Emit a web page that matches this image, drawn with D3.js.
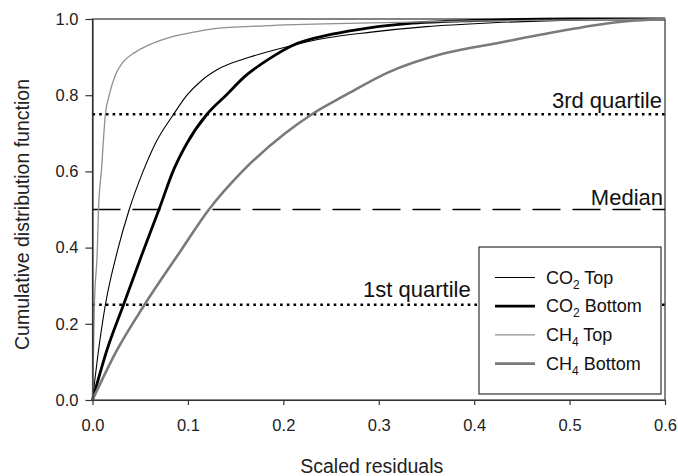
<!DOCTYPE html>
<html lang="en">
<head>
    <meta charset="UTF-8">
    <title>Cumulative distribution of scaled residuals</title>
    <script src="https://d3js.org/d3.v7.min.js"></script>
    <style>
        body { margin: 0; background: white; }
        svg { font-family: "Liberation Sans", Arial, sans-serif; }
        .axis text { font-size: 16.5px; fill: #222; }
        .axis path, .axis line { stroke: #333; stroke-width: 1.2; }
        .axis-title { font-size: 19.5px; fill: #222; text-anchor: middle; }
        .ref-label { font-size: 22px; fill: #111; }
        .legend text { font-size: 18px; fill: #111; }
    </style>
</head>
<body>
    <div id="chart"></div>
    <script>
        // x ticks / y ticks
        const residualTicks = [0, 0.1, 0.2, 0.3, 0.4, 0.5, 0.6];
        const cdfTicks = [0, 0.2, 0.4, 0.6, 0.8, 1.0];

        // curves (scaled residual, cumulative fraction)
        const co2TopX = [0, 0.0063, 0.0135, 0.026, 0.0385, 0.053, 0.066, 0.085, 0.099, 0.115, 0.13, 0.165, 0.205, 0.245, 0.29, 0.35, 0.42, 0.5, 0.6];
        const co2TopY = [0, 0.13, 0.25, 0.39, 0.5, 0.6, 0.674, 0.75, 0.8, 0.84, 0.866, 0.9, 0.928, 0.95, 0.965, 0.98, 0.99, 0.997, 1.0];

        const co2BottomX = [0, 0.015, 0.0325, 0.053, 0.0697, 0.085, 0.099, 0.12, 0.14, 0.16, 0.188, 0.209, 0.251, 0.29, 0.33, 0.4, 0.5, 0.6];
        const co2BottomY = [0, 0.13, 0.25, 0.39, 0.5, 0.604, 0.674, 0.75, 0.8, 0.85, 0.9, 0.93, 0.96, 0.977, 0.988, 0.996, 1.0, 1.0];

        const ch4TopX = [0, 0.001, 0.002, 0.005, 0.0063, 0.0094, 0.0135, 0.0175, 0.024, 0.032, 0.045, 0.062, 0.083, 0.107, 0.128, 0.18, 0.279, 0.4, 0.6];
        const ch4TopY = [0, 0.12, 0.25, 0.39, 0.5, 0.604, 0.75, 0.8, 0.853, 0.887, 0.913, 0.935, 0.953, 0.966, 0.975, 0.982, 0.989, 0.995, 1.0];

        const ch4BottomX = [0, 0.0255, 0.0545, 0.092, 0.122, 0.157, 0.202, 0.23, 0.265, 0.31, 0.366, 0.429, 0.492, 0.547, 0.6];
        const ch4BottomY = [0, 0.13, 0.25, 0.39, 0.5, 0.6, 0.7, 0.75, 0.8, 0.86, 0.908, 0.939, 0.969, 0.991, 1.0];

        const seriesNames = ["CO2 Top", "CO2 Bottom", "CH4 Top", "CH4 Bottom"];
        const refLevels = [0.75, 0.5, 0.25];
        const refLabels = ["3rd quartile", "Median", "1st quartile"];

        const series = [
            { name: seriesNames[0], x: co2TopX, y: co2TopY, color: "#000", width: 1.1, gas: "CO", sub: "2", pos: "Top" },
            { name: seriesNames[1], x: co2BottomX, y: co2BottomY, color: "#000", width: 2.8, gas: "CO", sub: "2", pos: "Bottom" },
            { name: seriesNames[2], x: ch4TopX, y: ch4TopY, color: "#8f8f8f", width: 1.3, gas: "CH", sub: "4", pos: "Top" },
            { name: seriesNames[3], x: ch4BottomX, y: ch4BottomY, color: "#7a7a7a", width: 2.6, gas: "CH", sub: "4", pos: "Bottom" }
        ];

        const margin = { top: 19, right: 13, bottom: 76, left: 92.5 };
        const width = 678 - margin.left - margin.right;
        const height = 476 - margin.top - margin.bottom;

        const svg = d3.select("#chart")
            .append("svg")
            .attr("width", 678)
            .attr("height", 476)
            .append("g")
            .attr("transform", `translate(${margin.left},${margin.top})`);

        const x = d3.scaleLinear().domain([0, 0.6]).range([0, width]);
        const y = d3.scaleLinear().domain([0, 1]).range([height, 0]);

        // frame
        svg.append("rect")
            .attr("width", width)
            .attr("height", height)
            .attr("fill", "none")
            .attr("stroke", "#333")
            .attr("stroke-width", 1.2);

        // reference lines
        const refStyles = [
            { dash: "2.6,4.1", w: 2.6 },
            { dash: "28,12", w: 1.6 },
            { dash: "2.6,4.1", w: 2.6 }
        ];
        refLevels.forEach((lv, i) => {
            svg.append("line")
                .attr("x1", x(0)).attr("x2", x(0.6))
                .attr("y1", y(lv)).attr("y2", y(lv))
                .attr("stroke", "#000")
                .attr("stroke-width", refStyles[i].w)
                .attr("stroke-dasharray", refStyles[i].dash);
        });

        // curves
        const line = d3.line().curve(d3.curveMonotoneX);
        series.forEach(s => {
            svg.append("path")
                .datum(s.x.map((v, i) => [x(v), y(s.y[i])]))
                .attr("fill", "none")
                .attr("stroke", s.color)
                .attr("stroke-width", s.width)
                .attr("d", line);
        });

        // reference labels
        svg.append("text").attr("class", "ref-label")
            .attr("x", width - 3).attr("y", y(0.75) - 6)
            .attr("text-anchor", "end").text(refLabels[0]);
        svg.append("text").attr("class", "ref-label")
            .attr("x", width - 2).attr("y", y(0.5) - 5)
            .attr("text-anchor", "end").text(refLabels[1]);
        svg.append("text").attr("class", "ref-label")
            .attr("x", x(0.34)).attr("y", y(0.25) - 8)
            .attr("text-anchor", "middle").text(refLabels[2]);

        // axes
        svg.append("g")
            .attr("class", "axis")
            .attr("transform", `translate(0,${height})`)
            .call(d3.axisBottom(x).tickValues(residualTicks).tickFormat(d3.format(".1f"))
                .tickSize(5).tickSizeOuter(0).tickPadding(14));

        svg.append("g")
            .attr("class", "axis")
            .call(d3.axisLeft(y).tickValues(cdfTicks).tickFormat(d3.format(".1f"))
                .tickSize(7).tickSizeOuter(0).tickPadding(7));

        // axis titles
        svg.append("text")
            .attr("class", "axis-title")
            .attr("x", width / 2 - 7)
            .attr("y", height + 73)
            .text("Scaled residuals");

        svg.append("text")
            .attr("class", "axis-title")
            .attr("transform", "rotate(-90)")
            .attr("x", -height / 2 - 5)
            .attr("y", -margin.left + 29)
            .text("Cumulative distribution function");

        // legend
        const legend = svg.append("g")
            .attr("class", "legend")
            .attr("transform", `translate(${479 - margin.left},${247 - margin.top})`);

        legend.append("rect")
            .attr("width", 182)
            .attr("height", 147)
            .attr("fill", "white")
            .attr("stroke", "#333")
            .attr("stroke-width", 1.2);

        series.forEach((s, i) => {
            const cy = 30.5 + i * 28.7;
            legend.append("line")
                .attr("x1", 16).attr("x2", 56)
                .attr("y1", cy).attr("y2", cy)
                .attr("stroke", s.color)
                .attr("stroke-width", s.width);
            const t = legend.append("text")
                .attr("x", 67)
                .attr("y", cy + 6);
            t.append("tspan").text(s.gas);
            t.append("tspan").attr("font-size", "12px").attr("dy", 5).text(s.sub);
            t.append("tspan").attr("dy", -5).text(" " + s.pos);
        });
    </script>
</body>
</html>
